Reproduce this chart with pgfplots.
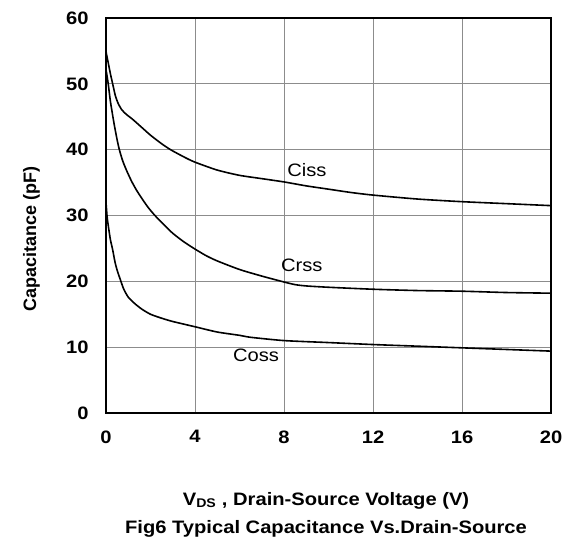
\documentclass[border=0pt]{standalone}
\usepackage{pgfplots}
\pgfplotsset{compat=1.18}
\usepackage{fontspec}
\setmainfont{Liberation Sans}
\newfontfamily\widefont[FakeStretch=1.12]{Liberation Sans}
\begin{document}
\begin{tikzpicture}[x=1pt,y=1pt]
\path[use as bounding box] (0,0) rectangle (567,539);
\begin{axis}[
  at={(106pt,126pt)}, anchor=south west,
  scale only axis, width=445pt, height=395pt,
  xmin=0, xmax=20, ymin=0, ymax=60,
  xtick={0,4,8,12,16,20}, ytick={0,10,20,30,40,50,60},
  grid=major,
  grid style={color=black!45, line width=0.9pt},
  axis line style={black, line width=1.5pt},
  major tick length=0pt,
  /pgf/number format/assume math mode=true,
  ticklabel style={font=\widefont\fontsize{18}{20}\selectfont\bfseries},
  xticklabel style={yshift=-14pt},
  yticklabel style={xshift=-14pt},
  clip=false,
]
\addplot[black, line width=1.6pt, smooth, tension=0.4] coordinates {
 (0,54.9) (0.1,53.2) (0.2,51.5) (0.3,50) (0.42,48.2) (0.55,47) (0.7,46.1) (0.9,45.4)
 (1.2,44.6) (1.6,43.4) (2,42.2) (2.5,40.9) (2.9,40) (3.5,38.9) (4,38.1) (5,36.9) (6,36.1)
 (7,35.6) (8,35.1) (9,34.5) (10,34) (11,33.5) (12,33.1) (14,32.5) (16,32.1) (18,31.8) (20,31.5)};
\addplot[black, line width=1.6pt, smooth, tension=0.4] coordinates {
 (0,52.2) (0.1,50) (0.2,47.3) (0.36,44) (0.5,41.5) (0.6,40) (0.75,38.3) (0.93,36.8)
 (1.15,35.2) (1.38,33.8) (1.65,32.4) (1.9,31.2) (2.2,30) (2.6,28.6) (3,27.3) (3.5,26) (4,24.9)
 (4.5,23.9) (5,23.1) (6,21.8) (7,20.8) (8,19.9) (8.5,19.5) (9,19.3) (10,19.1) (12,18.8) (14,18.6)
 (16,18.5) (18,18.3) (20,18.2)};
\addplot[black, line width=1.6pt, smooth, tension=0.4] coordinates {
 (0,32) (0.05,29.8) (0.1,28.5) (0.2,26.3) (0.3,24.8) (0.4,23) (0.5,21.7) (0.67,20) (0.8,18.8)
 (1,17.6) (1.3,16.6) (1.6,15.8) (2,15) (2.5,14.4) (3,13.9) (4,13.1) (5,12.3) (6,11.8) (6.5,11.5)
 (8,11) (10,10.7) (12,10.4) (14,10.15) (16,9.9) (18,9.65) (20,9.4)};
\node[font=\widefont\fontsize{18}{20}\selectfont] at (axis cs:9.03,36.9) {Ciss};
\node[font=\widefont\fontsize{18}{20}\selectfont] at (axis cs:8.8,22.5) {Crss};
\node[font=\widefont\fontsize{18}{20}\selectfont] at (axis cs:6.74,8.8) {Coss};
\end{axis}
\node[anchor=base, font=\widefont\fontsize{18}{20}\selectfont\bfseries] at (326,34) {V\textsubscript{DS} , Drain-Source Voltage (V)};
\node[anchor=base, font=\widefont\fontsize{18}{20}\selectfont\bfseries] at (326,6) {Fig6 Typical Capacitance Vs.Drain-Source};
\node[anchor=base, rotate=90, font=\fontsize{18}{20}\selectfont\bfseries] at (36,300) {Capacitance (pF)};
\end{tikzpicture}
\end{document}
